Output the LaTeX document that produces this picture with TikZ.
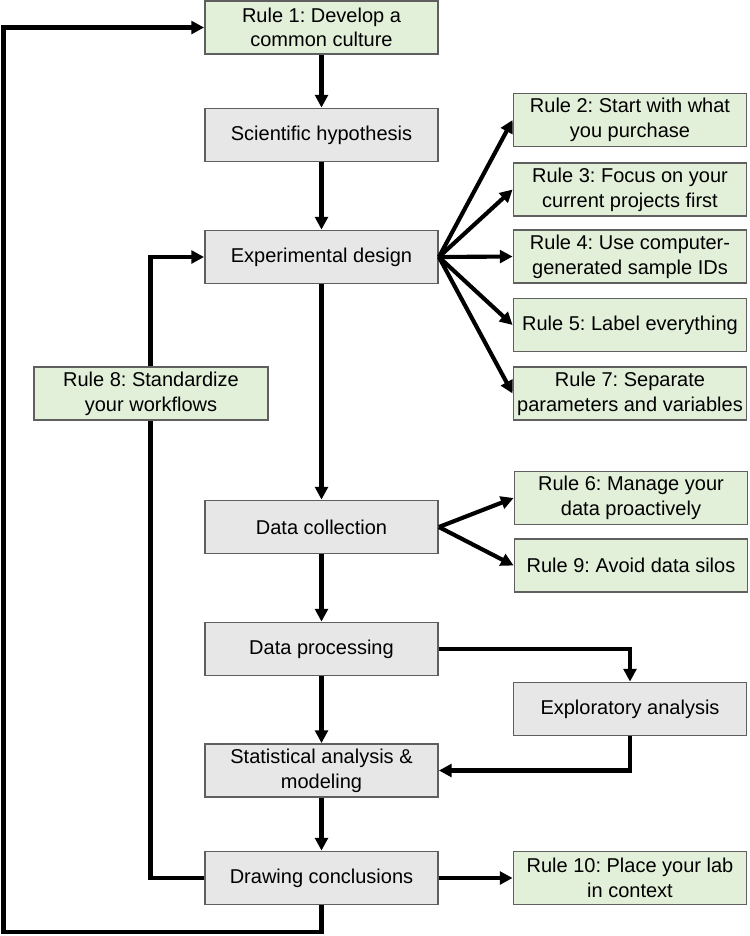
\documentclass[tikz,border=0pt]{standalone}
\usepackage{fontspec}
\setmainfont{Liberation Sans}
\usetikzlibrary{arrows.meta}
\frenchspacing
\definecolor{boxgreen}{RGB}{226,239,217}
\definecolor{boxgray}{RGB}{231,231,231}
\definecolor{boxline}{RGB}{95,95,95}
\tikzset{
  basebox/.style={draw=boxline, line width=1.1pt, minimum width=175pt, minimum height=40pt,
    inner sep=0pt, align=center, font=\fontsize{15}{18.5}\selectfont},
  gbox/.style={basebox, fill=boxgreen},
  pbox/.style={basebox, fill=boxgray},
  arr/.style={line width=3.1pt, -{Triangle[length=9.5pt,width=9.5pt]}}
}
\begin{document}
\begin{tikzpicture}[x=0.75pt,y=-0.75pt]
\useasboundingbox (0,0) rectangle (750,936);
% main column
\node[gbox] (r1) at (321.5,27.5) {Rule 1: Develop a\\common culture};
\node[pbox] (sci) at (321.5,135) {Scientific hypothesis};
\node[pbox] (exp) at (321.5,257) {Experimental design};
\node[pbox] (dc) at (321.5,527) {Data collection};
\node[pbox] (dp) at (321.5,649) {Data processing};
\node[pbox] (sa) at (321.5,770.5) {Statistical analysis \&\\modeling};
\node[pbox] (con) at (321.5,878) {Drawing conclusions};
% right column
\node[gbox] (r2) at (630,120) {Rule 2: Start with what\\you purchase};
\node[gbox] (r3) at (630,189.5) {Rule 3: Focus on your\\current projects first};
\node[gbox] (r4) at (630,256.5) {Rule 4: Use computer-\\generated sample IDs};
\node[gbox] (r5) at (630,325) {Rule 5: Label everything};
\node[gbox] (r7) at (630,393.5) {Rule 7: Separate\\parameters and variables};
\node[gbox] (r6) at (631,498) {Rule 6: Manage your\\data proactively};
\node[gbox] (r9) at (631,565.5) {Rule 9: Avoid data silos};
\node[pbox] (ex) at (630,709) {Exploratory analysis};
\node[gbox] (r10) at (630,878) {Rule 10: Place your lab\\in context};
% coordinates for loops
\coordinate (outer) at (3.5,500);
\coordinate (inner) at (150.5,500);
% vertical flow
\draw[arr] (r1) -- (sci);
\draw[arr] (sci) -- (exp);
\draw[arr] (exp) -- (dc);
\draw[arr] (dc) -- (dp);
\draw[arr] (dp) -- (sa);
\draw[arr] (sa) -- (con);
% fan from experimental design
\draw[arr] (exp.east) -- (r2.west);
\draw[arr] (exp.east) -- (r3.west);
\draw[arr] (exp.east) -- (r4.west);
\draw[arr] (exp.east) -- (r5.west);
\draw[arr] (exp.east) -- (r7.west);
% fan from data collection
\draw[arr] (dc.east) -- (r6.west);
\draw[arr] (dc.east) -- (r9.west);
% exploratory
\draw[arr] (dp.east) -| (ex.north);
\draw[arr] (ex.south) |- (sa.east);
% conclusions
\draw[arr] (con.east) -- (r10.west);
\draw[arr] (con.south) -- ++(0,26.5) -| (outer) |- (r1.west);
\draw[arr] (con.west) -| (inner) |- (exp.west);
% rule 8 on top of inner loop
\node[gbox, minimum width=175.5pt] (r8) at (151,393.5) {Rule 8: Standardize\\your workflows};
\end{tikzpicture}
\end{document}
